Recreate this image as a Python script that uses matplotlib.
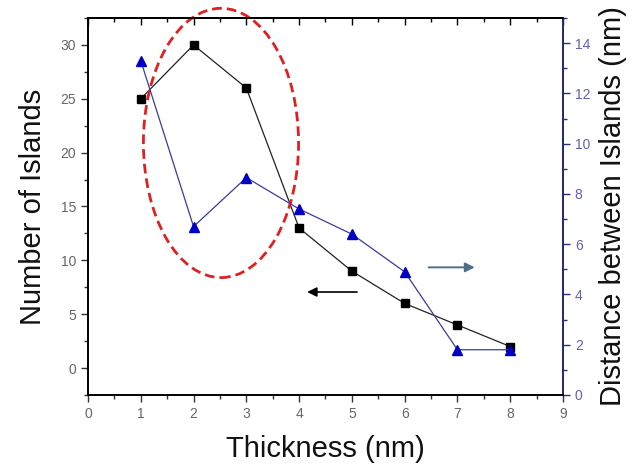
import matplotlib

matplotlib.use("Agg")
import matplotlib.pyplot as plt
from matplotlib.patches import Ellipse
from matplotlib.ticker import MultipleLocator

thickness = [1, 2, 3, 4, 5, 6, 7, 8]
n_islands = [25, 30, 26, 13, 9, 6, 4, 2]
distance = [13.3, 6.7, 8.65, 7.4, 6.4, 4.9, 1.8, 1.8]

plt.rcParams.update(
    {
        "font.family": ["Liberation Sans", "DejaVu Sans"],
        "axes.linewidth": 1.2,
    }
)

fig = plt.figure(figsize=(6.34, 4.70), dpi=100)
ax = fig.add_axes([0.1388, 0.1596, 0.888 - 0.1388, 0.9617 - 0.1596])
ax2 = ax.twinx()

ax.plot(thickness, n_islands, color="#222222", linewidth=0.9,
        marker="s", markersize=5.5, markerfacecolor="black", markeredgecolor="black")
ax2.plot(thickness, distance, color="#3a3aa0", linewidth=0.9,
         marker="^", markersize=7.5, markerfacecolor="#0000c8", markeredgecolor="#0000c8")

ax.set_xlim(0, 9)
ax.set_ylim(-2.5, 32.5)
ax2.set_ylim(0, 15)

ax.xaxis.set_major_locator(MultipleLocator(1))
ax.xaxis.set_minor_locator(MultipleLocator(0.5))
ax.yaxis.set_major_locator(MultipleLocator(5))
ax.yaxis.set_minor_locator(MultipleLocator(2.5))
ax2.yaxis.set_major_locator(MultipleLocator(2))
ax2.yaxis.set_minor_locator(MultipleLocator(1))

ax.tick_params(axis="both", which="major", direction="out", length=5, width=1.0,
               labelsize=10, labelcolor="#666666", color="#333333")
ax.tick_params(axis="both", which="minor", direction="out", length=3, width=1.0, color="#333333")

top = ax.secondary_xaxis("top")
top.xaxis.set_major_locator(MultipleLocator(1))
top.xaxis.set_minor_locator(MultipleLocator(0.5))
top.tick_params(axis="x", which="major", direction="in", length=5, width=1.0, labeltop=False)
top.tick_params(axis="x", which="minor", direction="in", length=3, width=1.0)
top.spines["top"].set_linewidth(1.2)

navy = "#2c2c7a"
ax2.spines["right"].set_color(navy)
ax2.tick_params(axis="y", which="major", direction="out", length=5, width=1.0,
                labelsize=10, labelcolor="#6060b0", color=navy)
ax2.tick_params(axis="y", which="minor", direction="out", length=3, width=1.0, color=navy)

ax.set_xlabel("Thickness (nm)", fontsize=21, color="#111111", labelpad=10)
ax.set_ylabel("Number of Islands", fontsize=21, color="#111111", labelpad=10)
ax2.set_ylabel("Distance between Islands (nm)", fontsize=21, color="#111111", labelpad=6)

ax.add_patch(Ellipse((2.52, 20.9), 2.94, 25.0, fill=False, edgecolor="#e02020",
                     linewidth=2.0, linestyle=(0, (3.5, 1.8)), clip_on=False, zorder=5))

ax.annotate("", xy=(4.1, 7.06), xytext=(5.15, 7.06),
            arrowprops=dict(arrowstyle="-|>", color="black", lw=1.2, mutation_scale=14))
ax.annotate("", xy=(7.38, 9.35), xytext=(6.4, 9.35),
            arrowprops=dict(arrowstyle="-|>", color="#4f6e8e", lw=1.4, mutation_scale=14))

fig.savefig("out.png")
